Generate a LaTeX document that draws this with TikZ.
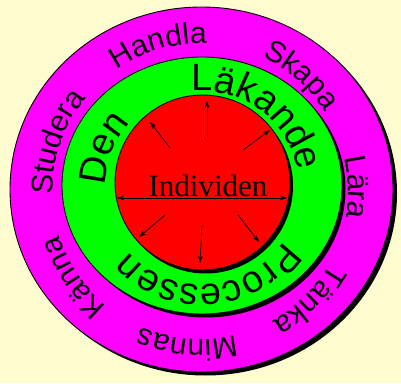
\documentclass[tikz,border=0pt]{standalone}
\usepackage{fontspec}
\newfontfamily\sansf{Liberation Sans}
\newfontfamily\seriff{Liberation Serif}
\usetikzlibrary{decorations.text,arrows.meta}
\definecolor{bgc}{RGB}{255,253,208}
\definecolor{magc}{RGB}{255,0,255}
\definecolor{grnc}{RGB}{0,255,0}
\definecolor{redc}{RGB}{255,0,0}
\newcommand\ringword[5]{%
  \path[decorate,decoration={text along path,text align=center,
    text={|\sansf\fontsize{#4}{#4}\selectfont|#5}}]
    ([shift={(#3+75:#2)}]#1) arc[start angle=#3+75,end angle=#3-75,radius=#2];}
\begin{document}
\begin{tikzpicture}[x=1pt,y=1pt,
  ring/.style={draw=black,line width=0.9pt},
  shad/.style={fill=black},
  arr/.style={line width=0.7pt,-{Stealth[length=7pt,width=4.5pt]}}]
\fill[bgc] (0,0) rectangle (401,383);
\useasboundingbox (0,0) rectangle (401,383);
% centres
\coordinate (oc) at (200.5,191.5);
\coordinate (gc) at (202,195);
% outer ring
\fill[shad] (205.5,190) ellipse[x radius=191.5,y radius=182.5];
\filldraw[fill=magc,ring] (201.5,193.5) ellipse[x radius=191.5,y radius=182.5];
% green ring
\fill[shad] (205.5,194) ellipse[x radius=140,y radius=128.5];
\filldraw[fill=grnc,ring] (202,197.5) ellipse[x radius=140,y radius=128.5];
% red
\fill[shad] (205.5,197) circle[radius=87.5];
\filldraw[fill=redc,ring] (202.5,200.5) circle[radius=87.5];
% outer words
\ringword{oc}{148}{161}{30}{Studera}
\ringword{oc}{148}{106}{30}{Handla}
\ringword{oc}{148}{49}{30}{Skapa}
\ringword{oc}{148}{1.5}{30}{Lära}
\ringword{oc}{148}{-45}{30}{Tänka}
\ringword{oc}{148}{-95}{30}{Minnas}
\ringword{oc}{148}{-146}{30}{Känna}
% green words
\ringword{gc}{97}{158}{38}{Den}
\ringword{gc}{97}{53}{38}{Läkande}
\ringword{gc}{97}{-86}{38}{Processen}
% centre text
\node[anchor=base,inner sep=0pt,font=\seriff\fontsize{31}{31}\selectfont] (ind) at (208,186) {Individen};
% arrows
\coordinate (m) at (202,185);
\coordinate (a1s) at (207,245); \coordinate (a1e) at (207,282);
\coordinate (a2s) at (170,235); \coordinate (a2e) at (150,261);
\coordinate (a3s) at (243,233); \coordinate (a3e) at (270,253);
\coordinate (a4s) at (165,168); \coordinate (a4e) at (139,146);
\coordinate (a5s) at (202,158); \coordinate (a5e) at (200,120);
\coordinate (a6s) at (238,168); \coordinate (a6e) at (259,141);
\coordinate (a7e) at (117,185); \coordinate (a8e) at (287,185);
\draw[arr] (a1s) -- (a1e);
\draw[arr] (a2s) -- (a2e);
\draw[arr] (a3s) -- (a3e);
\draw[arr] (a4s) -- (a4e);
\draw[arr] (a5s) -- (a5e);
\draw[arr] (a6s) -- (a6e);
\draw[arr] (m) -- (a7e);
\draw[arr] (m) -- (a8e);
\end{tikzpicture}
\end{document}
